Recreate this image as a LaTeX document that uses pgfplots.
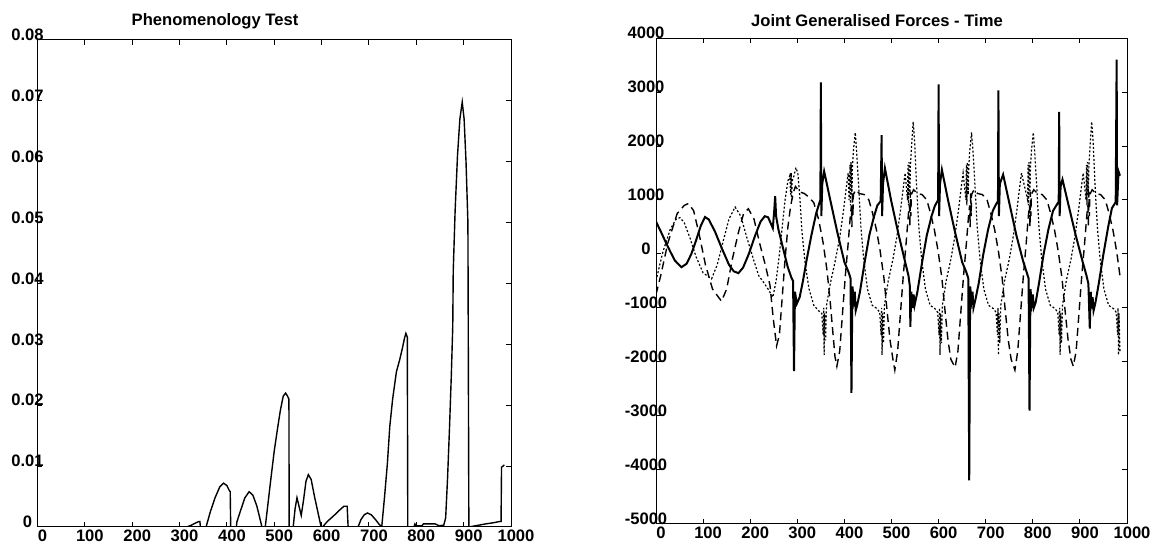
\documentclass[border=0pt]{standalone}
\usepackage{fontspec}
\setmainfont{Liberation Sans}
\usepackage{pgfplots}
\pgfplotsset{compat=1.18}
\pgfplotsset{
 mystyle/.style={
  scale only axis,
  axis line style={line width=0.5pt},
  tick align=inside,
  major tick length=2.5pt,
  tick style={line width=0.5pt, black},
  xmin=0, xmax=1000,
  scaled x ticks=false, scaled y ticks=false,
  xtick={0,100,200,300,400,500,600,700,800,900,1000},
  xticklabels={0,100,200,300,400,500,600,700,800,900,1000},
  /pgf/number format/assume math mode=true,
  ticklabel style={font=\fontsize{8.3}{10}\selectfont\bfseries},
  xticklabel style={anchor=north, inner sep=0pt, yshift=-1.5pt, xshift=2.5pt},
  yticklabel style={anchor=center, inner sep=0pt, xshift=-5pt, yshift=2.5pt},
 }
}
\begin{document}
\begin{tikzpicture}[x=1pt,y=1pt]
\path[use as bounding box] (0,0) rectangle (581.5,274.5);
% ---------------- left panel
\begin{axis}[mystyle, at={(18.75pt,11pt)}, anchor=south west,
  width=236.75pt, height=243.5pt, ymin=0, ymax=0.08,
  ytick={0,0.01,0.02,0.03,0.04,0.05,0.06,0.07,0.08},
  yticklabels={0,0.01,0.02,0.03,0.04,0.05,0.06,0.07,0.08}]
\addplot[black, line width=0.7pt] coordinates {
(0,0)(300,0)(315,0)(325,0.0003)(335,0.0007)(341,0.0009)(343,0.0009)(344,0)(356,0)(365,0.0025)(375,0.0048)(385,0.0066)(393,0.0072)(400,0.0068)(405,0.006)(407,0.0058)(408,0)(420,0)(421,0.0008)(428,0.0025)(438,0.0048)(447,0.0058)(455,0.0052)(463,0.0035)(470,0.0013)(474,0)(481,0)(487,0.004)(493,0.008)(500,0.0125)(507,0.0162)(513,0.0192)(519,0.0215)(524,0.022)(528,0.0215)(531,0.021)(531.5,0)(540,0)(544,0.003)(548,0.0048)(552,0.0035)(557,0.0019)(562,0.0045)(567,0.0075)(572,0.0086)(578,0.0078)(585,0.005)(592,0.0025)(599,0)(602,0)(612,0.0009)(625,0.0018)(637,0.0027)(647,0.0034)(654,0.0034)(656,0)(677,0)(683,0.0012)(690,0.002)(697,0.0023)(705,0.002)(714,0.0012)(722,0.0004)(727,0)(733,0.005)(739,0.0105)(744,0.0165)(750,0.021)(758,0.0255)(765,0.0275)(771,0.0295)(775,0.031)(778,0.0318)(781,0.0312)(782,0)(795,0)(797,0.0005)(800,0.0002)(812,0.0002)(815,0.0005)(840,0.0005)(848,0.0002)(858,0.0003)(862,0.0015)(866,0.008)(870,0.016)(874,0.025)(877,0.033)(878,0.042)(882,0.052)(887,0.061)(892,0.067)(897,0.0698)(901,0.067)(905,0.06)(909,0.05)(911,0)(925,0.0002)(946,0.0005)(963,0.0007)(976,0.0009)(979,0.0009)(980,0.0098)(986,0.0102)
};
\end{axis}
% ---------------- right panel
\begin{axis}[mystyle, at={(328pt,12.5pt)}, anchor=south west,
  width=235.5pt, height=243pt, ymin=-5000, ymax=4000,
  ytick={-5000,-4000,-3000,-2000,-1000,0,1000,2000,3000,4000},
  yticklabels={-5000,-4000,-3000,-2000,-1000,0,1000,2000,3000,4000}]
% solid
\addplot[black, line width=1pt] coordinates {
(0,600)(10,420)(20,230)(30,50)(40,-120)(54,-245)(65,-180)(75,0)(85,250)(95,520)(104,685)(112,640)(125,420)(140,100)(155,-200)(165,-320)(175,-355)(185,-250)(197,0)(210,330)(222,600)(231,700)(238,680)(244,560)(248,480)(251,800)(253,1070)(255,700)(260,450)(270,100)(280,-250)(288,-450)(291,-500)(293,-2170)(295,-700)(299,-920)(305,-800)(312,-500)(320,-100)(330,350)(340,750)(347,950)(349,1000)(350,3180)(351,700)(353,1300)(357,1530)(370,1000)(385,400)(400,-150)(409,-340)(413,-450)(415,-2570)(417,-600)(420,-850)(422,-700)(424,-1050)(427,-950)(433,-700)(443,-150)(453,350)(463,700)(470,900)(477,980)(479,2200)(480,700)(482,1300)(486,1590)(499,1000)(514,400)(529,-150)(536,-400)(539,-600)(540,-1350)(542,-700)(545,-1000)(547,-750)(549,-950)(555,-700)(565,-150)(575,350)(585,700)(592,890)(599,1000)(600,3140)(601,700)(603,1300)(607,1560)(620,1000)(635,400)(650,-150)(659,-340)(663,-450)(665,-4190)(667,-600)(670,-850)(672,-700)(674,-1000)(678,-850)(685,-550)(695,0)(705,450)(715,800)(722,920)(726,980)(727,3030)(728,700)(730,1300)(737,1470)(750,950)(765,350)(780,-150)(787,-340)(791,-450)(793,-2900)(795,-650)(798,-900)(800,-750)(802,-1000)(806,-900)(813,-550)(823,0)(833,450)(843,800)(850,900)(855,970)(856,2630)(857,700)(859,1250)(863,1380)(876,900)(891,350)(906,-150)(914,-400)(918,-550)(921,-1380)(923,-700)(925,-1010)(927,-800)(929,-1050)(933,-900)(940,-550)(950,0)(960,500)(968,850)(976,960)(978,3600)(979,900)(982,1530)(985,1450)
};
% dashed
\addplot[black, line width=0.7pt, dash pattern=on 4pt off 2.5pt] coordinates {
(0,-750)(10,-400)(25,200)(45,750)(60,900)(69,936)(80,800)(92,350)(105,-200)(120,-650)(139,-875)(150,-650)(162,-100)(175,400)(186,750)(196,838)(208,650)(220,200)(232,-200)(242,-580)(249,-1200)(256,-1700)(262,-1500)(268,-800)(274,-100)(280,500)(286,900)(292,1150)(296,1250)(305,1150)(315,1120)(325,1050)(335,950)(345,650)(355,200)(363,-300)(370,-900)(376,-1500)(380,-1900)
(384,-2080)(390,-1800)(396,-1100)(402,-400)(408,200)(413,750)(415,900)(416,500)(417,1150)(418,700)(419,1100)(424,1190)(432,1120)(442,1100)(452,1000)(460,750)(468,450)(476,50)(484,-450)(490,-1000)(497,-1600)(503,-1950)
(507,-2150)(513,-1800)(519,-1100)(525,-400)(531,200)(536,750)(538,900)(539,500)(540,1150)(541,700)(542,1100)(547,1190)(555,1120)(565,1100)(575,1000)(583,750)(591,450)(599,50)(607,-450)(613,-1000)(620,-1600)(626,-1950)
(635,-2100)(641,-1800)(647,-1100)(653,-400)(659,200)(664,750)(666,900)(667,500)(668,1150)(669,700)(670,1100)(675,1190)(683,1120)(693,1100)(703,1000)(711,750)(719,450)(727,50)(735,-450)(741,-1000)(748,-1600)(754,-1950)
(762,-2150)(768,-1800)(774,-1100)(780,-400)(786,200)(791,750)(793,900)(794,500)(795,1150)(796,700)(797,1100)(802,1190)(810,1120)(820,1100)(830,1000)(838,750)(846,450)(854,50)(862,-450)(868,-1000)(875,-1600)(881,-1950)
(886,-2080)(892,-1800)(898,-1100)(904,-400)(910,200)(915,750)(917,900)(918,500)(919,1150)(920,700)(921,1100)(926,1190)(934,1120)(944,1100)(954,1000)(962,750)(970,450)(978,50)(985,-400)
};
% dotted
\addplot[black, line width=0.6pt, dash pattern=on 1pt off 1pt] coordinates {
(0,-500)(8,-200)(15,50)(30,450)(42,640)(51,673)(60,580)(72,300)(85,-50)(100,-350)(118,-460)(130,-200)(143,250)(155,650)(168,870)(180,700)(193,300)(207,-100)(218,-400)(228,-520)(238,-650)(248,-800)(255,-500)(262,0)(268,500)(274,1000)(280,1350)(284,1450)(286,1100)(287,1500)(288,1000)(289,1350)(293,1450)(297,1600)(301,1500)(305,1100)(310,400)(317,-200)(325,-650)(335,-950)(345,-1050)(352,-1100)(355,-1500)(356,-1000)(357,-1870)(358,-1100)(360,-1600)(362,-950)(370,-550)(380,-150)(390,300)(398,800)(405,1300)(408,1500)(410,1000)(412,1650)(413,900)(414,1700)(416,1100)(417,1600)(419,1900)
(423,2250)(426,1900)(430,1300)(435,500)(441,-100)(449,-650)(459,-950)(469,-1010)(475,-1080)(478,-1500)(479,-1000)(480,-1870)(481,-1100)(483,-1650)(485,-950)(493,-500)(503,-100)(511,300)(519,800)(526,1300)(529,1500)
(534,1000)(535,1650)(536,900)(537,1700)(539,1100)(540,1600)(542,1900)(546,2450)(549,2100)(553,1300)(558,500)(564,-100)(572,-650)(582,-950)(592,-1010)(598,-1080)(601,-1500)(602,-1000)(603,-1870)(604,-1100)(606,-1650)(608,-950)(616,-500)(626,-100)(634,300)(642,800)(649,1300)(652,1500)
(658,1000)(659,1650)(660,900)(661,1700)(663,1100)(664,1600)(666,1900)(670,2250)(673,1900)(677,1300)(682,500)(688,-100)(696,-650)(706,-950)(716,-1010)(722,-1080)(725,-1500)(726,-1000)(727,-1870)(728,-1100)(730,-1650)(732,-950)(740,-500)(750,-100)(758,300)(766,800)(773,1300)(776,1500)
(789,1000)(790,1650)(791,900)(792,1700)(794,1100)(795,1600)(797,1900)(801,2250)(804,1900)(808,1300)(813,500)(819,-100)(827,-650)(837,-950)(847,-1010)(853,-1080)(856,-1500)(857,-1000)(858,-1870)(859,-1100)(861,-1650)(863,-950)(871,-500)(881,-100)(889,300)(897,800)(904,1300)(907,1500)
(913,1000)(914,1650)(915,900)(916,1700)(918,1100)(919,1600)(921,1900)(925,2450)(928,2100)(932,1300)(937,500)(943,-100)(951,-650)(961,-950)(971,-1010)(977,-1080)(980,-1500)(981,-1000)(982,-1870)(983,-1100)(985,-1800)
};
\end{axis}
\node[font=\fontsize{8.3}{10}\selectfont\bfseries] at (107.5,264) {Phenomenology Test};
\node[font=\fontsize{8.3}{10}\selectfont\bfseries] at (438.5,264.25) {Joint Generalised Forces - Time};
\end{tikzpicture}
\end{document}
